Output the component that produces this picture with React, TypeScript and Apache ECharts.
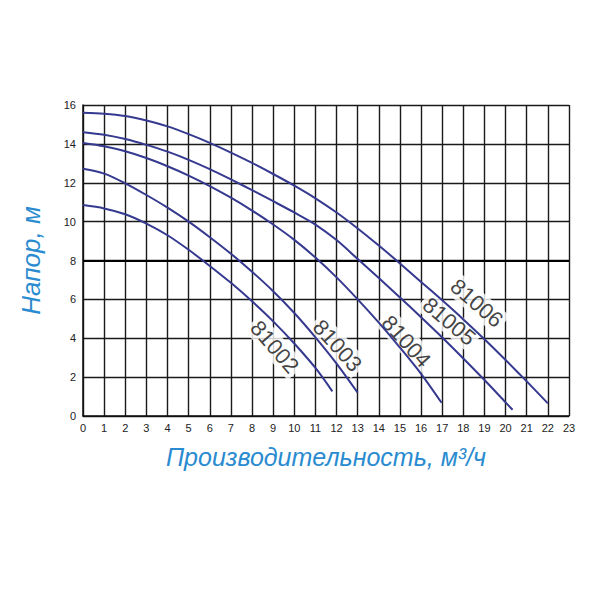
import React, { useEffect, useRef } from "react";
import * as echarts from "echarts";

const xTicks = [0, 23, 1];
const yTicks = [0, 16, 2];

const pumpNames = ["81002", "81003", "81004", "81005", "81006"];

const curve81002: [number, number][] = [
  [0, 10.85], [1, 10.68], [2, 10.38], [3, 9.9], [4, 9.3], [5, 8.55], [6, 7.72],
  [7, 6.85], [8, 5.9], [9, 4.87], [10, 3.73], [11, 2.47], [11.8, 1.27],
];
const curve81003: [number, number][] = [
  [0, 12.72], [1, 12.47], [2, 11.97], [3, 11.37], [4, 10.72], [5, 10.0], [6, 9.2],
  [7, 8.35], [8, 7.42], [9, 6.42], [10, 5.3], [11, 4.05], [12, 2.7], [13, 1.2],
];
const curve81004: [number, number][] = [
  [0, 14.05], [1, 13.88], [2, 13.62], [3, 13.27], [4, 12.85], [5, 12.37], [6, 11.83],
  [7, 11.23], [8, 10.57], [9, 9.85], [10, 9.06], [11, 8.15], [12, 7.13], [13, 6.0],
  [14, 4.8], [15, 3.52], [16, 2.17], [16.97, 0.68],
];
const curve81005: [number, number][] = [
  [0, 14.6], [1, 14.47], [2, 14.25], [3, 13.95], [4, 13.6], [5, 13.18], [6, 12.7],
  [7, 12.17], [8, 11.62], [9, 11.05], [10, 10.47], [11, 9.85], [12, 9.05], [13, 8.08],
  [14, 7.1], [15, 6.1], [16, 5.08], [17, 4.04], [18, 2.96], [19, 1.85], [20, 0.7],
  [20.33, 0.32],
];
const curve81006: [number, number][] = [
  [0, 15.6], [1, 15.55], [2, 15.43], [3, 15.2], [4, 14.9], [5, 14.5], [6, 14.05],
  [7, 13.55], [8, 13.02], [9, 12.45], [10, 11.85], [11, 11.2], [12, 10.47], [13, 9.65],
  [14, 8.77], [15, 7.85], [16, 6.9], [17, 5.95], [18, 4.97], [19, 3.95], [20, 2.88],
  [21, 1.78], [22, 0.65],
];
const curves = [curve81002, curve81003, curve81004, curve81005, curve81006];

// label anchor points (data coordinates) and text angles
const labelX = [9.07, 12.04, 15.3, 17.33, 18.64];
const labelY = [3.55, 3.62, 3.84, 4.87, 5.81];
const labelAngle = [-49, -48, -48, -40, -41];

const xAxisName = "Производительность, м³/ч";
const yAxisName = "Напор, м";

const CURVE_COLOR = "#35398f";
const NAME_COLOR = "#2a8bd0";
const FONT = "'Liberation Sans', Arial, Helvetica, sans-serif";

export default function App() {
  const ref = useRef<HTMLDivElement>(null);
  useEffect(() => {
    if (!ref.current) return;
    const chart = echarts.init(ref.current, undefined, { renderer: "svg" });
    const lineSeries = curves.map((c, i) => ({
      type: "line",
      name: pumpNames[i],
      data: c,
      smooth: 0.3,
      showSymbol: false,
      symbol: "none",
      z: 5,
      lineStyle: { color: CURVE_COLOR, width: 2 },
      markLine:
        i === 0
          ? {
              silent: true,
              symbol: "none",
              label: { show: false },
              lineStyle: { color: "#000", width: 2.2, type: "solid" },
              data: [{ yAxis: 8 }],
            }
          : undefined,
    }));
    chart.setOption({
      animation: false,
      backgroundColor: "#fff",
      grid: { left: 83, right: 31, top: 105, bottom: 184, containLabel: false },
      xAxis: {
        type: "value",
        min: xTicks[0],
        max: xTicks[1],
        interval: xTicks[2],
        axisLine: { show: true, lineStyle: { color: "#111", width: 1.5 } },
        axisTick: { show: false },
        axisLabel: { color: "#222", fontSize: 11, margin: 6, fontFamily: FONT },
        splitLine: { show: true, lineStyle: { color: "#1a1a1a", width: 1.4 } },
        name: xAxisName,
        nameLocation: "middle",
        nameGap: 28,
        nameTextStyle: {
          color: NAME_COLOR,
          fontSize: 25,
          fontStyle: "italic",
          fontFamily: FONT,
        },
      },
      yAxis: {
        type: "value",
        min: yTicks[0],
        max: yTicks[1],
        interval: yTicks[2],
        axisLine: { show: true, lineStyle: { color: "#111", width: 1.5 } },
        axisTick: { show: false },
        axisLabel: { color: "#222", fontSize: 11, margin: 7, fontFamily: FONT },
        splitLine: { show: true, lineStyle: { color: "#1a1a1a", width: 1.4 } },
        name: yAxisName,
        nameLocation: "middle",
        nameGap: 39,
        nameTextStyle: {
          color: NAME_COLOR,
          fontSize: 26,
          fontStyle: "italic",
          fontFamily: FONT,
        },
      },
      series: [
        {
          type: "scatter",
          z: 2,
          symbolSize: 0,
          silent: true,
          data: pumpNames.map((n, i) => ({
            value: [labelX[i], labelY[i]],
            name: n,
            label: { rotate: labelAngle[i] },
          })),
          label: {
            show: true,
            position: "inside",
            formatter: "{b}",
            color: "#111",
            fontSize: 22,
            fontFamily: FONT,
            backgroundColor: "#fff",
            padding: [1, 3],
          },
        },
        ...lineSeries,
      ],
    });
    return () => chart.dispose();
  }, []);
  return (
    <div
      ref={ref}
      style={{ position: "fixed", left: 0, top: 0, width: 600, height: 600 }}
    />
  );
}
